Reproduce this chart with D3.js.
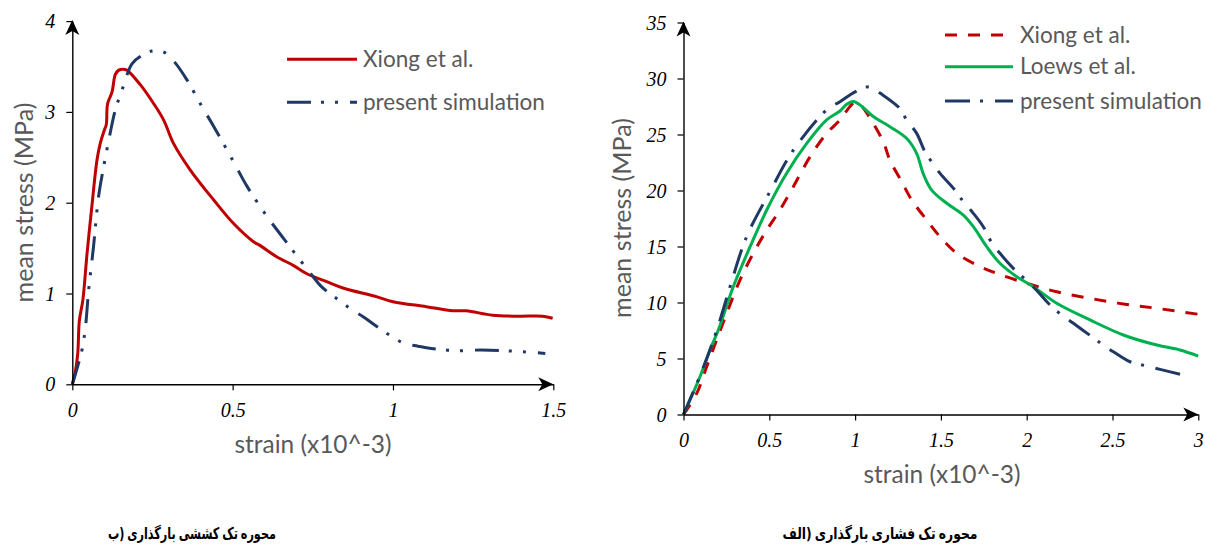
<!DOCTYPE html>
<html><head><meta charset="utf-8">
<script src="https://cdn.jsdelivr.net/npm/d3@7"></script>
<style>body{margin:0;background:#fff}svg{display:block}</style>
</head><body>
<svg id="chart" width="1205" height="546"></svg>
<script>
// ---------- data ----------
const tensileXiong = [[0,0],[0.010,0.15],[0.017,0.34],[0.022,0.70],[0.033,0.93],[0.046,1.44],[0.061,1.96],[0.077,2.47],[0.087,2.65],[0.100,2.80],[0.106,2.86],[0.110,3.09],[0.124,3.22],[0.134,3.41],[0.145,3.46],[0.158,3.47],[0.170,3.46],[0.212,3.30],[0.254,3.09],[0.285,2.91],[0.316,2.65],[0.368,2.36],[0.441,2.03],[0.503,1.77],[0.565,1.57],[0.585,1.53],[0.637,1.405],[0.689,1.31],[0.730,1.22],[0.793,1.13],[0.844,1.06],[0.948,0.965],[1.0,0.91],[1.104,0.855],[1.187,0.81],[1.228,0.81],[1.311,0.76],[1.394,0.75],[1.467,0.75],[1.498,0.727]];
const tensilePresent = [[0,0],[0.030,0.375],[0.041,0.63],[0.051,1.04],[0.066,1.51],[0.082,2.07],[0.098,2.40],[0.116,2.73],[0.134,3.02],[0.158,3.27],[0.186,3.53],[0.212,3.61],[0.248,3.67],[0.270,3.67],[0.290,3.65],[0.321,3.54],[0.358,3.35],[0.404,3.06],[0.441,2.84],[0.503,2.45],[0.545,2.18],[0.604,1.865],[0.658,1.61],[0.699,1.42],[0.751,1.185],[0.777,1.075],[0.834,0.92],[0.870,0.826],[0.907,0.745],[0.943,0.653],[1.0,0.518],[1.036,0.45],[1.078,0.42],[1.12,0.395],[1.197,0.37],[1.275,0.378],[1.35,0.37],[1.434,0.352],[1.475,0.34]];
const compXiong = [[0,0],[0.077,1.89],[0.135,4.27],[0.193,6.65],[0.252,9.04],[0.329,12.0],[0.407,14.4],[0.485,16.47],[0.562,18.26],[0.64,20.34],[0.737,23.0],[0.834,25.1],[0.912,26.3],[0.97,27.5],[1.0,27.9],[1.04,27.5],[1.077,26.7],[1.164,24.36],[1.203,22.7],[1.271,20.8],[1.33,19.15],[1.417,17.37],[1.495,15.87],[1.592,14.39],[1.709,13.35],[1.825,12.6],[2.0,11.71],[2.175,10.96],[2.369,10.37],[2.563,9.87],[2.758,9.48],[3.0,8.95]];
const compLoews = [[0,0],[0.096,3.37],[0.154,5.76],[0.203,7.54],[0.29,11.4],[0.388,14.98],[0.485,18.26],[0.601,21.54],[0.718,24.2],[0.834,26.3],[0.912,27.1],[0.951,27.7],[0.99,27.95],[1.04,27.5],[1.106,26.6],[1.203,25.7],[1.30,24.66],[1.359,23.3],[1.397,21.5],[1.446,20.04],[1.534,18.86],[1.631,17.8],[1.689,16.77],[1.767,14.98],[1.844,13.5],[1.942,12.3],[2.038,11.41],[2.175,9.93],[2.369,8.44],[2.563,7.1],[2.758,6.2],[2.893,5.76],[3.0,5.22]];
const compPresent = [[0,0],[0.086,3.08],[0.154,5.76],[0.213,8.44],[0.271,11.4],[0.368,15.88],[0.504,19.9],[0.64,23.6],[0.834,27.2],[0.912,27.93],[1.0,28.8],[1.087,29.27],[1.145,28.7],[1.262,27.3],[1.30,26.3],[1.359,25.1],[1.407,23.46],[1.446,22.57],[1.495,21.53],[1.582,20.04],[1.631,19.0],[1.689,17.96],[1.747,16.77],[1.796,15.34],[1.844,14.39],[1.922,13.05],[2.038,11.41],[2.136,9.78],[2.204,8.88],[2.272,8.14],[2.379,6.95],[2.446,6.2],[2.505,5.6],[2.602,4.71],[2.699,4.33],[2.777,4.03],[2.913,3.53]];

const tensileXTicks = [0, 0.5, 1, 1.5];
const tensileYTicks = [0, 1, 2, 3, 4];
const compXTicks = [0, 0.5, 1, 1.5, 2, 2.5, 3];
const compYTicks = [0, 5, 10, 15, 20, 25, 30, 35];
const tensileLegend = ["Xiong et al.", "present simulation"];
const compLegend = ["Xiong et al.", "Loews et al.", "present simulation"];
const yTitle = "mean stress (MPa)";
const xTitle = "strain (x10^-3)";
const captionLeftWords = ["ب)", "بارگذاری", "کششی", "تک", "محوره"];
const captionRightWords = ["الف)", "بارگذاری", "فشاری", "تک", "محوره"];

// ---------- styles ----------
const RED = "#c00000", GREEN = "#00b050", NAVY = "#1f3864", GRAY = "#595959";
const styles = {
  tXiong:   {color: RED,   dash: null},
  tPresent: {color: NAVY,  dash: "24 10 3 11 3 12"},
  cXiong:   {color: RED,   dash: "12 11"},
  cLoews:   {color: GREEN, dash: null},
  cPresent: {color: NAVY,  dash: "25 10 3 12"}
};

const svg = d3.select("#chart");
const LABEL_FONT = "'Liberation Serif','Times New Roman',serif";
const SANS = "Lato, 'Open Sans', sans-serif";

function fitFont(sel, base, target) {
  sel.attr("font-size", base);
  const w = sel.node().getComputedTextLength();
  sel.attr("font-size", base * target / w);
}

function panel(cfg) {
  const x = d3.scaleLinear().domain(cfg.xDomain).range(cfg.xRange);
  const y = d3.scaleLinear().domain(cfg.yDomain).range(cfg.yRange);
  const g = svg.append("g");

  // series
  const line = d3.line().x(d => x(d[0])).y(d => y(d[1])).curve(d3.curveCatmullRom.alpha(0.5));
  cfg.series.forEach(s => {
    g.append("path").datum(s.data).attr("d", line)
      .attr("fill", "none").attr("stroke", s.style.color).attr("stroke-width", 3)
      .attr("stroke-dasharray", s.style.dash).attr("stroke-linejoin", "round");
  });

  // axes
  const xAxis = d3.axisBottom(x).tickValues(cfg.xTicks).tickSize(6).tickSizeOuter(0).tickFormat(d => String(d));
  const yAxis = d3.axisLeft(y).tickValues(cfg.yTicks).tickSize(6).tickSizeOuter(0).tickFormat(d => String(d));
  const gx = g.append("g").attr("transform", `translate(0,${cfg.yRange[0]})`).call(xAxis);
  const gy = g.append("g").attr("transform", `translate(${cfg.xRange[0]},0)`).call(yAxis);
  [gx, gy].forEach(a => {
    a.select(".domain").attr("stroke", "#000").attr("stroke-width", 1.4);
    a.selectAll(".tick line").attr("stroke", "#000").attr("stroke-width", 1.2);
    a.selectAll("text").attr("font-family", LABEL_FONT).attr("font-style", "italic")
      .attr("font-size", 20).attr("fill", "#000");
  });
  gx.selectAll(".tick text").attr("y", 32.5).attr("dy", null);
  gy.selectAll(".tick text").attr("x", -17).attr("dy", "0.33em");

  // arrow heads
  const xe = cfg.xRange[1], ye = cfg.yRange[0];
  g.append("path").attr("d", `M${xe},${ye} L${xe-15},${ye-7} L${xe-11},${ye} L${xe-15},${ye+7} Z`).attr("fill", "#000");
  const xa = cfg.xRange[0], ya = cfg.yRange[1] - 1;
  g.append("path").attr("d", `M${xa},${ya} L${xa-7},${ya+15} L${xa},${ya+11} L${xa+7},${ya+15} Z`).attr("fill", "#000");

  // titles
  const yt = g.append("text").text(yTitle).attr("fill", GRAY).attr("font-family", SANS)
    .attr("text-anchor", "middle")
    .attr("transform", `translate(${cfg.yTitle[0]},${cfg.yTitle[1]}) rotate(-90)`);
  fitFont(yt, 20, 200);
  const xt = g.append("text").text(xTitle).attr("fill", GRAY).attr("font-family", SANS)
    .attr("text-anchor", "middle").attr("x", cfg.xTitle[0]).attr("y", cfg.xTitle[1]);
  fitFont(xt, 20, 157);

  // legend
  cfg.series.forEach((s, i) => {
    const ly = cfg.legend.ys[i];
    g.append("line").attr("x1", cfg.legend.x1).attr("x2", cfg.legend.x2).attr("y1", ly).attr("y2", ly)
      .attr("stroke", s.style.color).attr("stroke-width", 3).attr("stroke-dasharray", s.style.dash);
    g.append("text").text(cfg.legendLabels[i]).attr("x", cfg.legend.tx).attr("y", ly + 7.5)
      .attr("fill", GRAY).attr("font-family", SANS).attr("font-size", cfg.legend.fs);
  });

  // caption: words laid out left-to-right as in the figure, compressed horizontally to fit
  const cg = g.append("g");
  const words = cfg.caption.map(w => cg.append("text").text("\u200E" + w)
    .attr("y", 0)
    .attr("font-family", "'DejaVu Sans', sans-serif").attr("font-weight", "bold")
    .attr("font-size", 16).attr("fill", "#000"));
  const widths = words.map(t => t.node().getComputedTextLength());
  const gap = 4;
  const total = d3.sum(widths) + gap * (widths.length - 1);
  let lx = 0;
  words.forEach((t, i) => { t.attr("x", lx); lx += widths[i] + gap; });
  const s = cfg.capWidth / total;
  cg.attr("transform", `translate(${cfg.capPos[0] - cfg.capWidth / 2},${cfg.capPos[1]}) scale(${s},1)`);
}

// legend font size so "present simulation" is ~182px wide
const probe = svg.append("text").text("present simulation").attr("font-family", SANS).attr("font-size", 20);
const legendFs = 20 * 182 / probe.node().getComputedTextLength();
probe.remove();

panel({
  xDomain: [0, 1.5], xRange: [72.3, 553.3],
  yDomain: [0, 4], yRange: [384.3, 21.1],
  xTicks: tensileXTicks, yTicks: tensileYTicks,
  series: [
    {data: tensileXiong, style: styles.tXiong},
    {data: tensilePresent, style: styles.tPresent}
  ],
  legendLabels: tensileLegend,
  legend: {x1: 287, x2: 357, tx: 363, ys: [59.3, 102.3], fs: legendFs},
  yTitle: [33, 202.5], xTitle: [313, 452.5],
  caption: captionLeftWords, capPos: [192, 539], capWidth: 168
});

panel({
  xDomain: [0, 3], xRange: [683.5, 1198.3],
  yDomain: [0, 35], yRange: [414.5, 22.5],
  xTicks: compXTicks, yTicks: compYTicks,
  series: [
    {data: compXiong, style: styles.cXiong},
    {data: compLoews, style: styles.cLoews},
    {data: compPresent, style: styles.cPresent}
  ],
  legendLabels: compLegend,
  legend: {x1: 945, x2: 1013, tx: 1020, ys: [35, 66.7, 101], fs: legendFs},
  yTitle: [631, 218], xTitle: [942, 483],
  caption: captionRightWords, capPos: [880, 539], capWidth: 195
});
</script>
</body></html>
